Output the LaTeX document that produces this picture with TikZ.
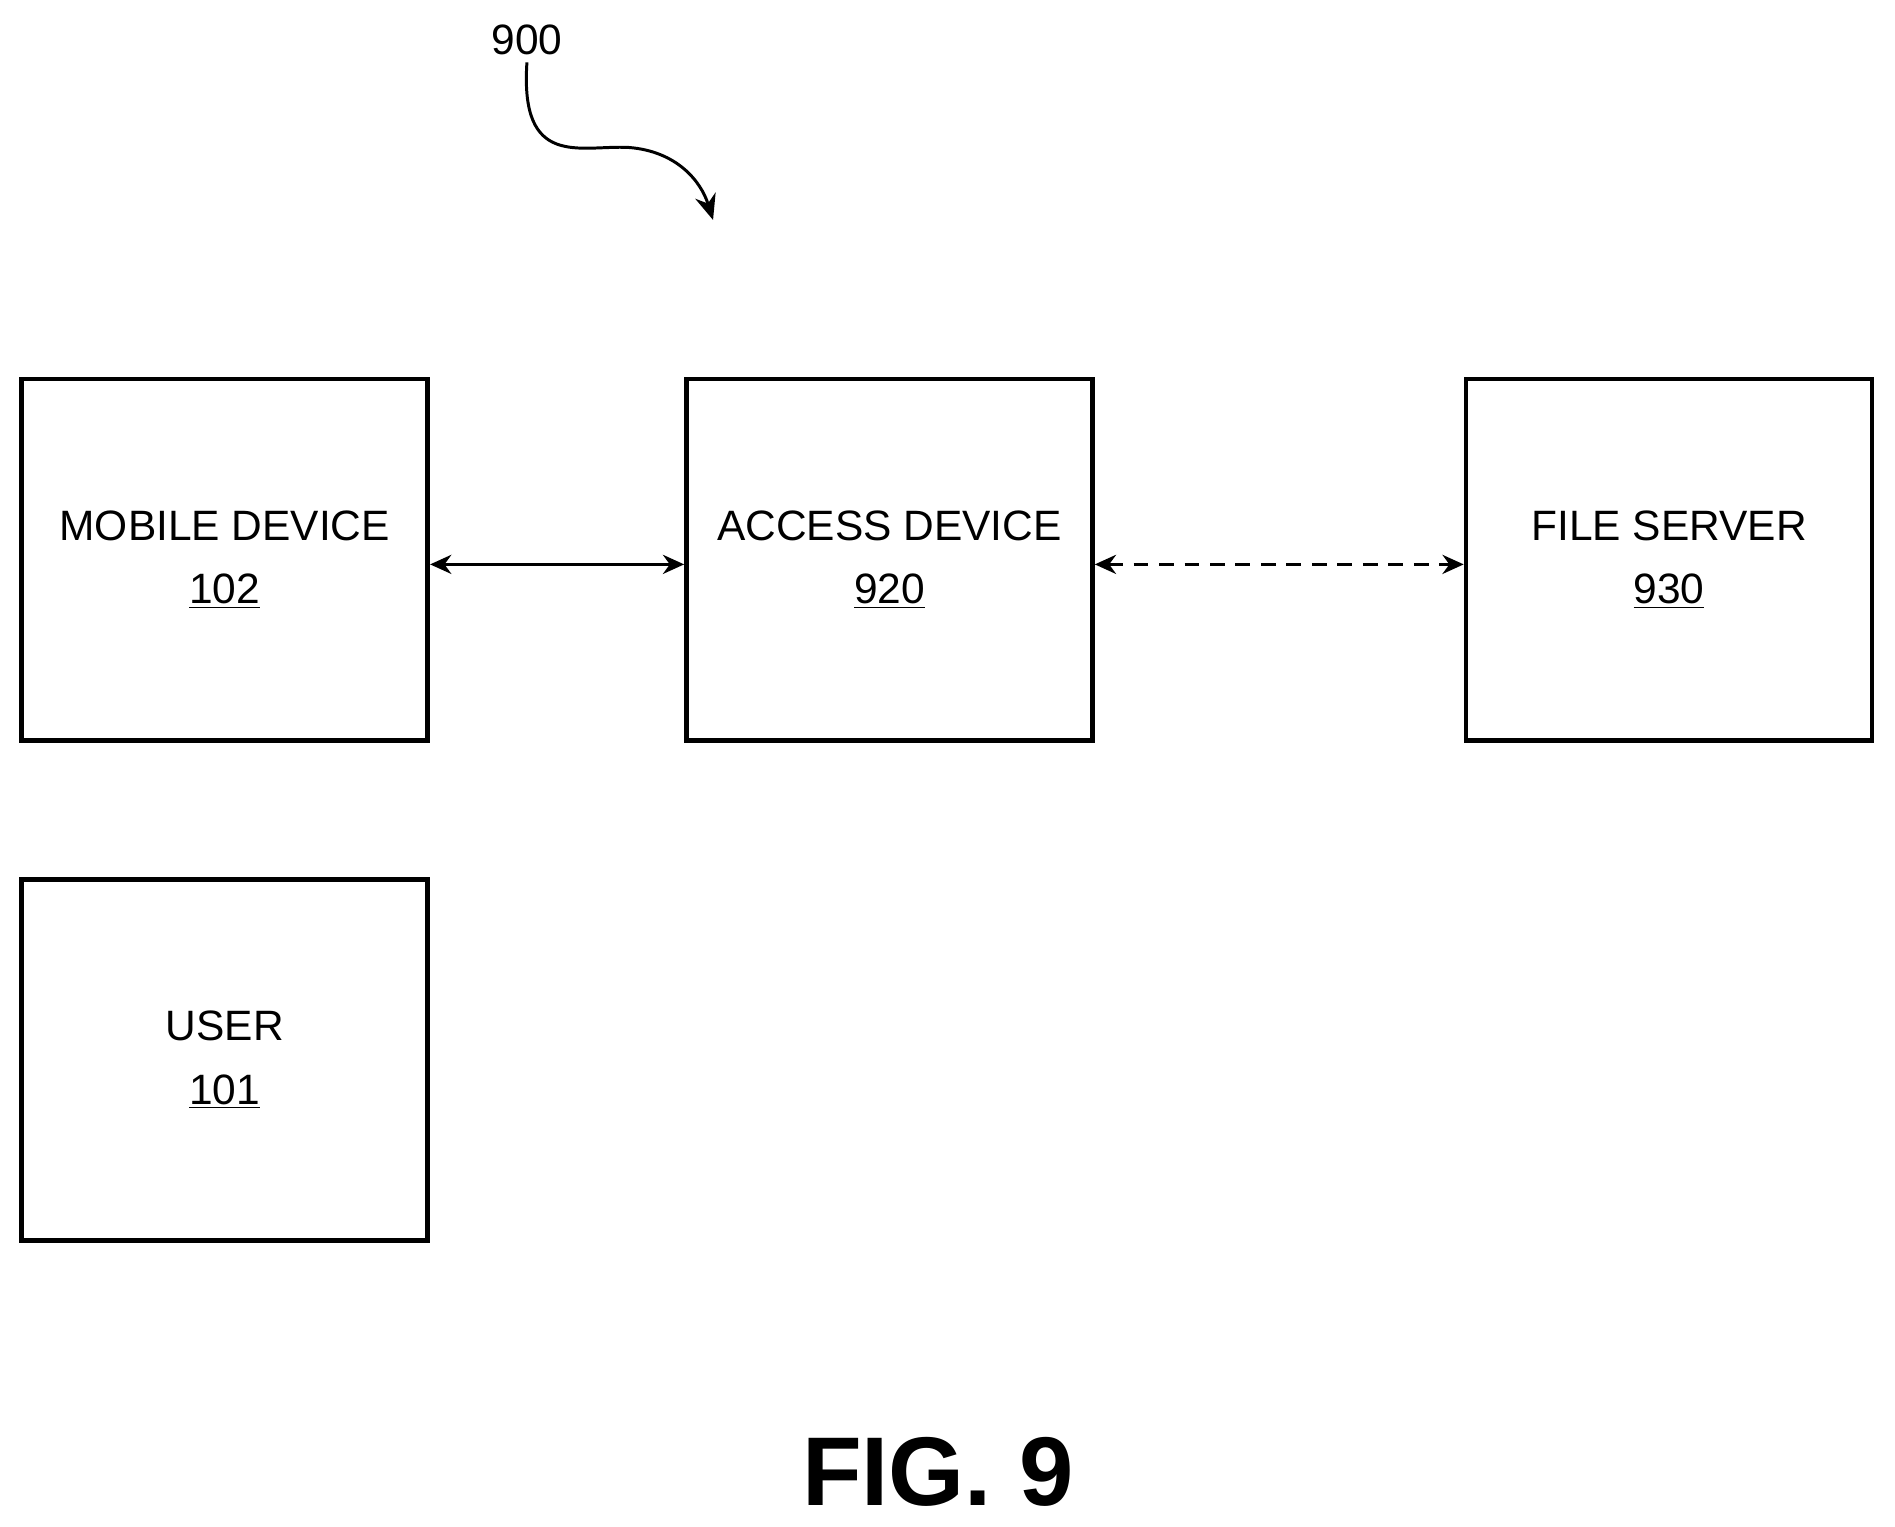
\documentclass[tikz,border=0pt]{standalone}
\usepackage{fontspec}
\setmainfont{Liberation Sans}
\usetikzlibrary{positioning, arrows.meta}
\begin{document}
\begin{tikzpicture}[
    x=0.02cm, y=-0.02cm,
    block/.style={rectangle, draw, line width=2.2pt, minimum width=6.72cm, minimum height=5.98cm, align=center, font=\fontsize{20}{30}\selectfont},
    link/.style={{Stealth[length=10pt,width=9pt]}-{Stealth[length=10pt,width=9pt]}, line width=1.4pt}
]
\useasboundingbox (0,0) rectangle (1568,1263);

% Blocks
\node[block] (mobile) at (186,463) {MOBILE DEVICE\\\underline{102}};
\node[block] (access) at (736,463) {ACCESS DEVICE\\\underline{920}};
\node[block] (server) at (1381,463) {FILE SERVER\\\underline{930}};
\node[block] (user) at (186,877) {USER\\\underline{101}};

% Links
\draw[link] (mobile.east |- 0,467) -- (access.west |- 0,467);
\draw[link, dashed, dash pattern=on 7pt off 5pt] (access.east |- 0,467) -- (server.west |- 0,467);

% Reference label
\node[font=\fontsize{20}{24}\selectfont] (ref) at (436,33) {900};
\coordinate (refend) at (590,182);
\draw[line width=1.4pt, -{Stealth[length=12pt,width=10pt]}] (ref.south) .. controls (430,140) and (480,120) .. (520,122) .. controls (560,125) and (580,150) .. (refend);

% Title
\node[font=\fontsize{46}{50}\selectfont\bfseries] (title) at (776,1218) {FIG. 9};
\end{tikzpicture}
\end{document}
